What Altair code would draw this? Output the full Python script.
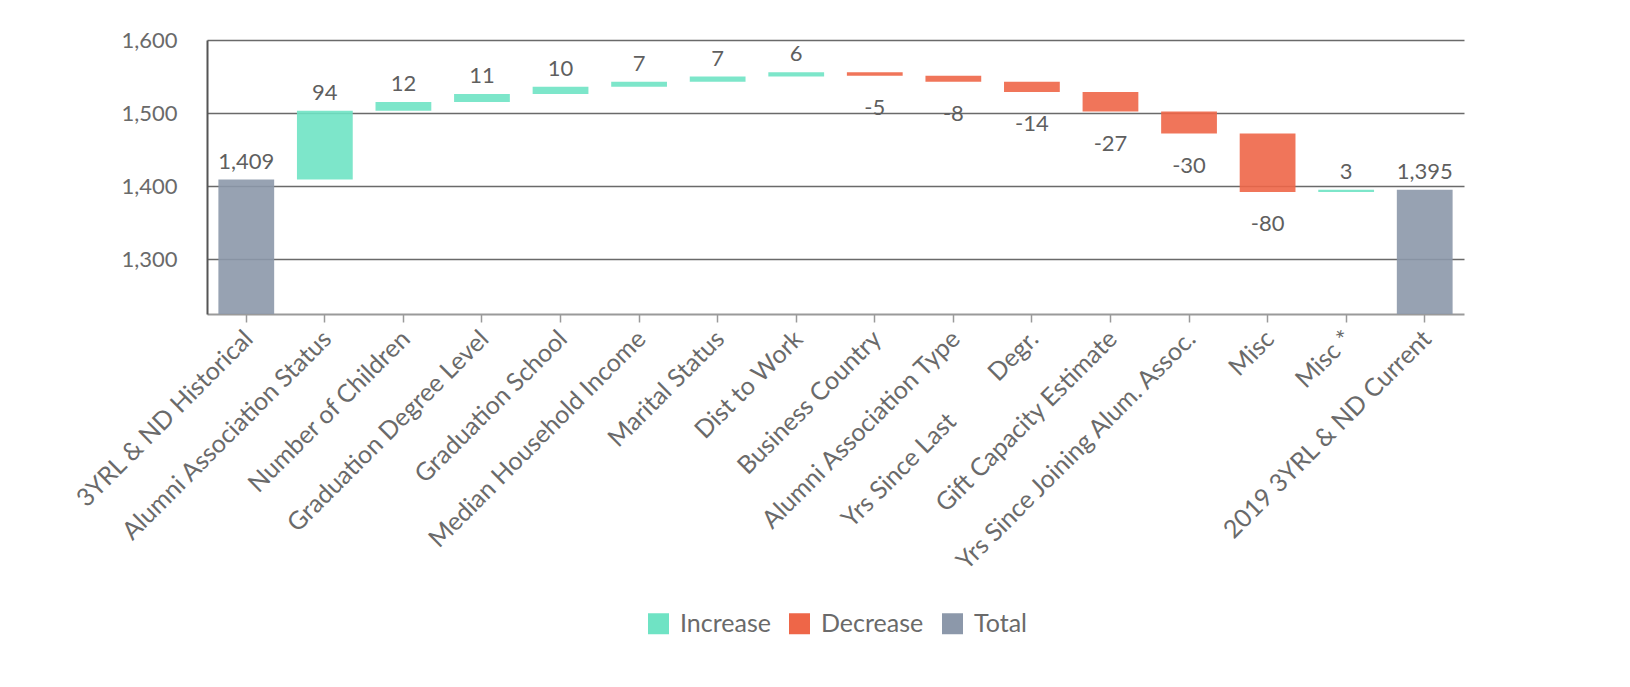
import altair as alt
import pandas as pd

categories = [
    "3YRL & ND Historical", "Alumni Association Status", "Number of Children",
    "Graduation Degree Level", "Graduation School", "Median Household Income",
    "Marital Status", "Dist to Work", "Business Country", "Alumni Association Type",
    "Yrs Since Last" + "\u00a0" * 9 + "Degr.", "Gift Capacity Estimate",
    "Yrs Since Joining Alum. Assoc.", "Misc", "Misc *", "2019 3YRL & ND Current",
]
values = [1409, 94, 12, 11, 10, 7, 7, 6, -5, -8, -14, -27, -30, -80, 3, 1395]
kinds = ["Total"] + ["Increase"] * 7 + ["Decrease"] * 6 + ["Increase"] + ["Total"]
y_ticks = [1300, 1400, 1500, 1600]

rows = []
running = 0
for i, (c, v, k) in enumerate(zip(categories, values, kinds)):
    if k == "Total":
        start, end = 1225, v
        running = v
    else:
        start, end = running, running + v
        running = end
    rows.append({
        "cat": c, "value": v, "kind": k, "start": start, "end": end,
        "top": max(start, end), "bottom": min(start, end),
        "label": f"{v:,}",
    })
df = pd.DataFrame(rows)

FONT = "Lato"
TXT = "#6a6a6a"
FS = 22

xenc = alt.X("cat:N", sort=categories, title=None,
             scale=alt.Scale(paddingInner=0.29, paddingOuter=0.145),
             axis=alt.Axis(labelAngle=315, labelFontSize=25, labelColor=TXT,
                           labelFont=FONT, tickColor="#9a9a9a", tickSize=8,
                           tickWidth=1.5, labelOffset=-6,
                           domainColor="#9a9a9a", domainWidth=2, grid=False,
                           labelPadding=4, labelLimit=500))

bars = alt.Chart(df).mark_bar(opacity=0.9).encode(
    x=xenc,
    y=alt.Y("start:Q", title=None,
            scale=alt.Scale(domain=[1225, 1600], nice=False, zero=False),
            axis=alt.Axis(values=y_ticks, format=",.0f",
                          labelFontSize=FS, labelColor=TXT, labelFont=FONT,
                          tickSize=0, labelPadding=30, domainColor="#555555",
                          domainWidth=2, gridColor="#6a6a6a", gridWidth=1.5)),
    y2="end:Q",
    color=alt.Color("kind:N", title=None,
                    scale=alt.Scale(domain=["Increase", "Decrease", "Total"],
                                    range=["#6FE3C4", "#EE6648", "#8C98AA"]),
                    legend=alt.Legend(orient="none", legendX=439, legendY=571,
                                      direction="horizontal", symbolType="square",
                                      symbolSize=441, symbolOpacity=1,
                                      symbolStrokeWidth=0,
                                      labelFontSize=25, labelFont=FONT,
                                      labelColor=TXT, columnPadding=16,
                                      labelOffset=9)),
)

pos = df[df["kind"] != "Decrease"]
neg = df[df["kind"] == "Decrease"]

text_pos = alt.Chart(pos).mark_text(baseline="alphabetic", dy=-11, fontSize=FS,
                                    font=FONT, color="#5f5f5f").encode(
    x=alt.X("cat:N", sort=categories), y="top:Q", text="label:N")
text_neg = alt.Chart(neg).mark_text(baseline="alphabetic", dy=39, fontSize=FS,
                                    font=FONT, color="#5f5f5f").encode(
    x=alt.X("cat:N", sort=categories), y="bottom:Q", text="label:N")

chart = alt.layer(bars, text_pos, text_neg).properties(
    width=1257, height=274,
    autosize=alt.AutoSizeParams(type="none"),
    padding={"left": 207, "top": 40, "right": 166, "bottom": 373},
    background="white",
).configure_view(stroke=None)

chart.save("out.html", embed_options={"renderer": "svg", "actions": False})
